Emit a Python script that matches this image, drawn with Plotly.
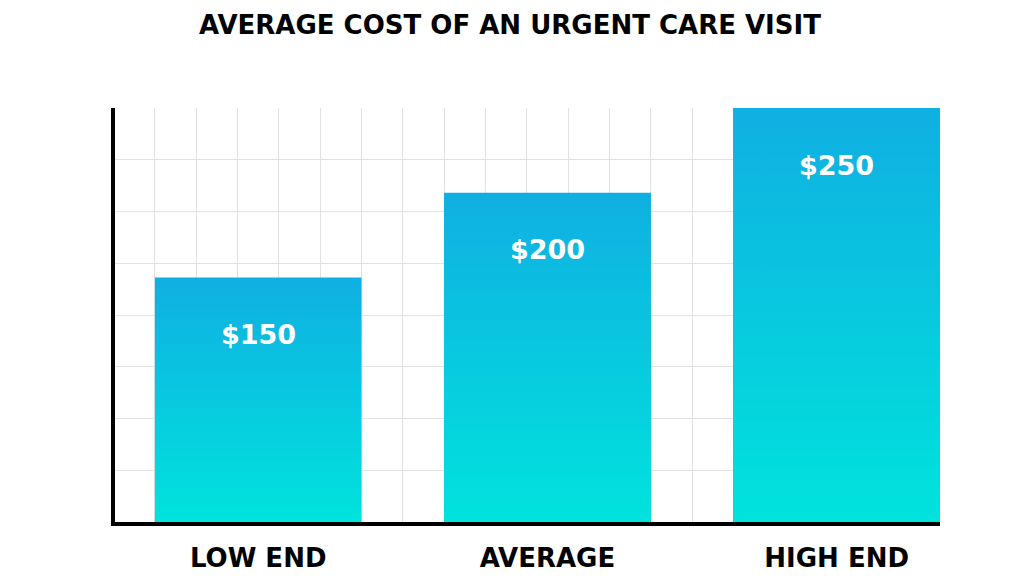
import plotly.graph_objects as go

# ---- data ----
categories = ["LOW END", "AVERAGE", "HIGH END"]
costs = [150, 200, 250]
value_labels = ["$150", "$200", "$250"]

# ---- styling ----
TOP_COLOR = "#10afe2"
BOTTOM_COLOR = "#00e3dc"
MID_COLOR = "#0ac9df"
GRID_COLOR = "#e2e2e2"
BAR_WIDTH = 5 / 7
Y_MIN = 5.86          # axis floor as drawn in the reference
Y_MAX = 250
N_HGRID = 8
X_MIN = -0.495
X_MAX = -0.5 + 20 / 7
FONT = "DejaVu Sans"

xs = list(range(len(categories)))

fig = go.Figure()

# the bars themselves
fig.add_trace(go.Bar(
    x=xs, y=costs, width=BAR_WIDTH,
    marker=dict(color=MID_COLOR, line=dict(width=0)),
    hovertext=categories, showlegend=False,
))

# vertical colour gradient painted over each bar, using the same geometry
for i, v in zip(xs, costs):
    half = BAR_WIDTH / 2
    fig.add_trace(go.Scatter(
        x=[i - half, i + half, i + half, i - half, i - half],
        y=[Y_MIN, Y_MIN, v, v, Y_MIN],
        mode="lines", line=dict(width=0),
        fill="toself",
        fillgradient=dict(type="vertical", start=Y_MIN, stop=v,
                          colorscale=[[0, BOTTOM_COLOR], [1, TOP_COLOR]]),
        hoverinfo="skip", showlegend=False,
    ))

# value labels inside the bars
for i, v, lab in zip(xs, costs, value_labels):
    fig.add_annotation(
        x=i, y=v, text=lab, showarrow=False, yshift=-57,
        font=dict(family=FONT, size=27, color="white", weight="bold"),
    )

fig.update_layout(
    width=1024, height=576,
    margin=dict(l=107, r=92, t=100, b=62),
    paper_bgcolor="white", plot_bgcolor="white",
    title=dict(
        text="AVERAGE COST OF AN URGENT CARE VISIT",
        x=502 / 1024, xref="container", xanchor="center",
        y=1 - 16.5 / 576, yref="container", yanchor="middle",
        font=dict(family=FONT, size=26, color="black", weight="bold"),
    ),
    bargap=0,
)

fig.update_xaxes(
    range=[X_MIN, X_MAX],
    tickmode="array", tickvals=xs, ticktext=categories,
    tickfont=dict(family=FONT, size=26, color="black", weight="bold"),
    ticks="", showgrid=False, zeroline=False, automargin=False,
    showline=True, linecolor="black", linewidth=4,
    minor=dict(tick0=-0.5, dtick=1 / 7, showgrid=True,
               gridcolor=GRID_COLOR, gridwidth=1, ticks=""),
    ticklabelstandoff=10,
)

fig.update_yaxes(
    range=[Y_MIN, Y_MAX + 0.01],
    tick0=Y_MIN, dtick=(Y_MAX - Y_MIN) / N_HGRID,
    showticklabels=False, ticks="", automargin=False,
    showgrid=True, gridcolor=GRID_COLOR, gridwidth=1, zeroline=False,
    showline=True, linecolor="black", linewidth=4,
)

fig.write_html("out.html")
